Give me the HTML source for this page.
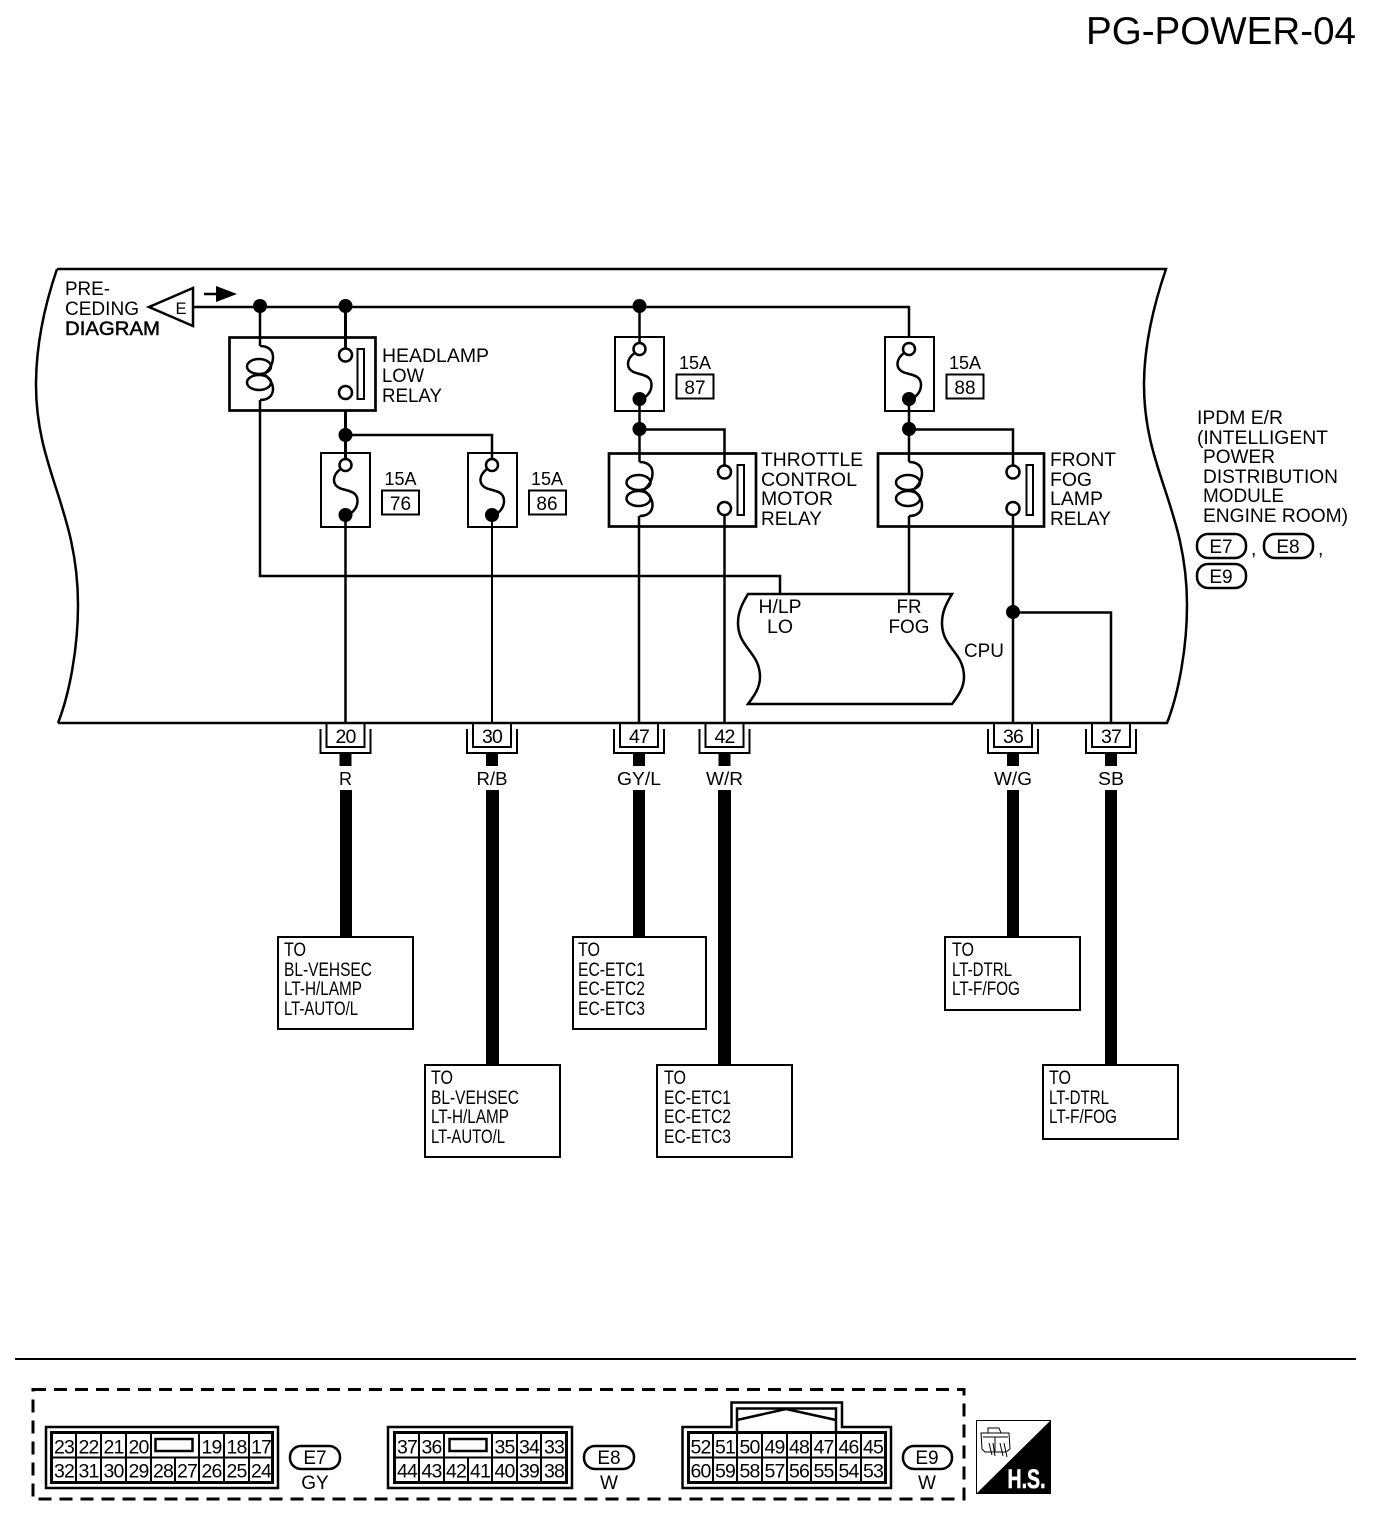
<!DOCTYPE html>
<html>
<head>
<meta charset="utf-8">
<title>PG-POWER-04</title>
<style>
html,body{margin:0;padding:0;background:#fff}
svg{display:block}
text{font-family:"Liberation Sans",sans-serif;font-size:19px;fill:#000}
.m{text-anchor:middle}
.n{font-size:19.5px;letter-spacing:-.9px;text-anchor:middle}
.d{font-size:19px}
.w{fill:none;stroke:#000;stroke-width:2.5}
.t{fill:none;stroke:#000;stroke-width:2}
.b{fill:#000;stroke:none}
</style>
</head>
<body>
<svg width="1376" height="1536" viewBox="0 0 1376 1536" xmlns="http://www.w3.org/2000/svg">
<defs>
<g id="coil">
<path class="w" d="M0 9 C8 9 13 13 13 20 C13 28 9 33 4 37 C9 41 13 46 13 52 C13 59 8 63 0 63"/>
<ellipse class="w" cx="-1" cy="29.5" rx="12" ry="7.5"/>
<ellipse class="w" cx="-1" cy="45.5" rx="12" ry="7.5"/>
</g>
<g id="conn">
<path class="t" d="M-19 0 V24 H19 V0"/>
<path class="t" d="M-25 6 V30 H25 V6"/>
<rect class="b" x="-6" y="30" width="12" height="13"/>
</g>
<g id="fuse">
<path class="w" d="M-5 16 C-13 22 -14 31 -6 35 C0 38 12 37 12 48 C12 55 7 60 2 62"/>
<circle cx="0" cy="12" r="6" fill="#fff" stroke="#000" stroke-width="2.5"/>
<circle class="b" cx="0" cy="62" r="7"/>
</g>
<g id="fusetag">
<rect class="t" x="0" y="0" width="37" height="24"/>
</g>
</defs>

<text x="1086" y="44" style="font-size:38.5px" textLength="270" lengthAdjust="spacingAndGlyphs">PG-POWER-04</text>

<!-- main module outline -->
<path d="M58 723 H1167 C1178 695 1187 650 1187 605 C1187 510 1144 470 1144 385 C1144 350 1152 310 1166 269 H57" fill="none" stroke="#000" stroke-width="2.5"/>
<path d="M57 269 C43 310 36 350 36 385 C36 470 78 510 78 605 C78 650 69 695 58 723" fill="none" stroke="#000" stroke-width="2.5"/>

<!-- upper left -->
<text x="65" y="295" textLength="45" lengthAdjust="spacingAndGlyphs">PRE-</text>
<text x="65" y="315" textLength="74" lengthAdjust="spacingAndGlyphs">CEDING</text>
<text x="65" y="335" textLength="95" lengthAdjust="spacingAndGlyphs" stroke="#000" stroke-width=".5">DIAGRAM</text>
<path d="M149 307 L193 288 V326 Z" fill="none" stroke="#000" stroke-width="2.5"/>
<text x="181" y="314" class="m" style="font-size:16.5px">E</text>
<path d="M204 294 H218" stroke="#000" stroke-width="2.5"/>
<path class="b" d="M216 286 L237 294 L216 302 Z"/>

<!-- main bus -->
<path class="w" d="M193 307 H909 V337"/>
<path d="M345.5 398 V460" stroke="#000" stroke-width="3" fill="none"/>
<path class="w" d="M639.5 307 V350"/>
<circle class="b" cx="260" cy="306" r="7"/>
<circle class="b" cx="345.5" cy="306" r="7"/>
<circle class="b" cx="639.5" cy="306" r="7"/>

<!-- headlamp relay -->
<rect x="229.5" y="337.5" width="146" height="73" fill="#fff" stroke="#000" stroke-width="2.7"/>
<path class="w" d="M260 307 V346"/>
<path d="M345.5 307 V350" stroke="#000" stroke-width="3"/>
<use href="#coil" x="260" y="337"/>
<circle cx="345.5" cy="355" r="6.5" fill="#fff" stroke="#000" stroke-width="2.5"/>
<circle cx="345.5" cy="392.5" r="6.5" fill="#fff" stroke="#000" stroke-width="2.5"/>
<rect x="357.5" y="349" width="6.5" height="50" fill="#fff" stroke="#000" stroke-width="2"/>
<text x="382" y="362" textLength="107" lengthAdjust="spacingAndGlyphs">HEADLAMP</text>
<text x="382" y="382" textLength="42" lengthAdjust="spacingAndGlyphs">LOW</text>
<text x="382" y="402" textLength="60" lengthAdjust="spacingAndGlyphs">RELAY</text>

<!-- wire from coil to CPU -->
<path class="w" d="M260 400 V576 H780 V594"/>

<!-- fuse row 2 -->
<path class="w" d="M345.5 435 H492 V460"/>
<circle class="b" cx="345.5" cy="435" r="7"/>
<rect class="t" x="321" y="453" width="49" height="74"/>
<rect class="t" x="468" y="453" width="49" height="74"/>
<use href="#fuse" x="345.5" y="453"/>
<use href="#fuse" x="492" y="453"/>
<path d="M345.5 515 V723" stroke="#000" stroke-width="2.5"/>
<path d="M492 515 V723" stroke="#000" stroke-width="2"/>
<text x="400.5" y="485" class="m" style="font-size:18px">15A</text>
<use href="#fusetag" x="382" y="490.5"/>
<text x="400.5" y="510" class="m">76</text>
<text x="547" y="485" class="m" style="font-size:18px">15A</text>
<use href="#fusetag" x="529" y="490.5"/>
<text x="547" y="510" class="m">86</text>

<!-- fuses top -->
<rect class="t" x="615" y="337" width="49" height="74"/>
<rect class="t" x="885" y="337" width="49" height="74"/>
<use href="#fuse" x="639.5" y="337"/>
<use href="#fuse" x="909" y="337"/>
<text x="695" y="369" class="m" style="font-size:18px">15A</text>
<use href="#fusetag" x="676.5" y="374.5"/>
<text x="695" y="394" class="m">87</text>
<text x="965" y="369" class="m" style="font-size:18px">15A</text>
<use href="#fusetag" x="946.5" y="374.5"/>
<text x="965" y="394" class="m">88</text>

<path class="w" d="M639.5 399 V462 M639.5 429.5 H724.5 V466"/>
<circle class="b" cx="639.5" cy="429" r="7"/>
<path class="w" d="M909 399 V462 M909 429.5 H1013 V466"/>
<circle class="b" cx="909" cy="429" r="7"/>

<!-- throttle relay -->
<rect x="609" y="453.5" width="147" height="73" fill="none" stroke="#000" stroke-width="2.7"/>
<use href="#coil" x="639.5" y="453"/>
<circle cx="724.5" cy="472" r="6.5" fill="#fff" stroke="#000" stroke-width="2.5"/>
<circle cx="724.5" cy="508.5" r="6.5" fill="#fff" stroke="#000" stroke-width="2.5"/>
<rect x="737.5" y="465" width="6.5" height="50" fill="#fff" stroke="#000" stroke-width="2"/>
<text x="761" y="466" textLength="102" lengthAdjust="spacingAndGlyphs">THROTTLE</text>
<text x="761" y="486" textLength="96" lengthAdjust="spacingAndGlyphs">CONTROL</text>
<text x="761" y="505" textLength="72" lengthAdjust="spacingAndGlyphs">MOTOR</text>
<text x="761" y="525" textLength="61" lengthAdjust="spacingAndGlyphs">RELAY</text>

<!-- fog relay -->
<rect x="878" y="453.5" width="166" height="73" fill="none" stroke="#000" stroke-width="2.7"/>
<use href="#coil" x="909" y="453"/>
<circle cx="1013" cy="472" r="6.5" fill="#fff" stroke="#000" stroke-width="2.5"/>
<circle cx="1013" cy="508.5" r="6.5" fill="#fff" stroke="#000" stroke-width="2.5"/>
<rect x="1026.5" y="465" width="6.5" height="50" fill="#fff" stroke="#000" stroke-width="2"/>
<text x="1050" y="466" textLength="66" lengthAdjust="spacingAndGlyphs">FRONT</text>
<text x="1050" y="486" textLength="42" lengthAdjust="spacingAndGlyphs">FOG</text>
<text x="1050" y="505" textLength="53" lengthAdjust="spacingAndGlyphs">LAMP</text>
<text x="1050" y="525" textLength="61" lengthAdjust="spacingAndGlyphs">RELAY</text>

<!-- wires down -->
<path class="w" d="M639 516 V723 M724.5 515 V723 M909 516 V594 M1013 515 V723 M1013 612.5 H1111 V723"/>
<circle class="b" cx="1013" cy="612" r="7"/>

<!-- CPU -->
<path class="w" d="M748 594 H952 C946 604 942 612 942 623 C942 648 964 652 964 677 C964 688 958 696 952 704 H748 C754 696 760 688 760 677 C760 652 738 648 738 623 C738 612 742 604 748 594 Z"/>
<text x="780" y="613" class="m" textLength="43" lengthAdjust="spacingAndGlyphs">H/LP</text>
<text x="780" y="633" class="m" textLength="26" lengthAdjust="spacingAndGlyphs">LO</text>
<text x="909" y="613" class="m" textLength="25" lengthAdjust="spacingAndGlyphs">FR</text>
<text x="909" y="633" class="m" textLength="41" lengthAdjust="spacingAndGlyphs">FOG</text>
<text x="964" y="657" textLength="40" lengthAdjust="spacingAndGlyphs">CPU</text>

<!-- IPDM label -->
<text x="1197" y="424" textLength="86" lengthAdjust="spacingAndGlyphs">IPDM E/R</text>
<text x="1197" y="444" textLength="131" lengthAdjust="spacingAndGlyphs">(INTELLIGENT</text>
<text x="1203" y="463" textLength="72" lengthAdjust="spacingAndGlyphs">POWER</text>
<text x="1203" y="483" textLength="135" lengthAdjust="spacingAndGlyphs">DISTRIBUTION</text>
<text x="1203" y="502" textLength="81" lengthAdjust="spacingAndGlyphs">MODULE</text>
<text x="1203" y="522" textLength="145" lengthAdjust="spacingAndGlyphs">ENGINE ROOM)</text>
<rect x="1197" y="534" width="49" height="24" rx="11" class="w"/>
<text x="1221" y="553" class="m">E7</text>
<text x="1251" y="555">,</text>
<rect x="1264" y="534" width="49" height="24" rx="11" class="w"/>
<text x="1288" y="553" class="m">E8</text>
<text x="1318" y="555">,</text>
<rect x="1197" y="564" width="49" height="24" rx="11" class="w"/>
<text x="1221" y="583" class="m">E9</text>

<!-- harness connectors -->
<use href="#conn" x="345.5" y="723"/>
<text x="345.5" y="743" class="n">20</text>
<text x="345.5" y="785" class="m" style="font-size:18px">R</text>
<rect class="b" x="340" y="790" width="12" height="147"/>
<use href="#conn" x="492" y="723"/>
<text x="492" y="743" class="n">30</text>
<text x="492" y="785" class="m" style="font-size:18px" textLength="31" lengthAdjust="spacingAndGlyphs">R/B</text>
<rect class="b" x="486" y="790" width="13" height="275"/>
<use href="#conn" x="639" y="723"/>
<text x="639" y="743" class="n">47</text>
<text x="639" y="785" class="m" style="font-size:18px" textLength="44" lengthAdjust="spacingAndGlyphs">GY/L</text>
<rect class="b" x="633" y="790" width="12" height="147"/>
<use href="#conn" x="724.5" y="723"/>
<text x="724.5" y="743" class="n">42</text>
<text x="724.5" y="785" class="m" style="font-size:18px" textLength="37" lengthAdjust="spacingAndGlyphs">W/R</text>
<rect class="b" x="718" y="790" width="13" height="275"/>
<use href="#conn" x="1013" y="723"/>
<text x="1013" y="743" class="n">36</text>
<text x="1013" y="785" class="m" style="font-size:18px" textLength="38" lengthAdjust="spacingAndGlyphs">W/G</text>
<rect class="b" x="1007" y="790" width="12" height="147"/>
<use href="#conn" x="1111" y="723"/>
<text x="1111" y="743" class="n">37</text>
<text x="1111" y="785" class="m" style="font-size:18px" textLength="26" lengthAdjust="spacingAndGlyphs">SB</text>
<rect class="b" x="1105" y="790" width="12" height="275"/>

<!-- destination boxes -->
<rect class="t" x="278" y="937" width="135" height="92"/>
<text x="284" y="956" class="d" textLength="22" lengthAdjust="spacingAndGlyphs">TO</text>
<text x="284" y="976" class="d" textLength="88" lengthAdjust="spacingAndGlyphs">BL-VEHSEC</text>
<text x="284" y="995" class="d" textLength="78" lengthAdjust="spacingAndGlyphs">LT-H/LAMP</text>
<text x="284" y="1015" class="d" textLength="74" lengthAdjust="spacingAndGlyphs">LT-AUTO/L</text>

<rect class="t" x="425" y="1065" width="135" height="92"/>
<text x="431" y="1084" class="d" textLength="22" lengthAdjust="spacingAndGlyphs">TO</text>
<text x="431" y="1104" class="d" textLength="88" lengthAdjust="spacingAndGlyphs">BL-VEHSEC</text>
<text x="431" y="1123" class="d" textLength="78" lengthAdjust="spacingAndGlyphs">LT-H/LAMP</text>
<text x="431" y="1143" class="d" textLength="74" lengthAdjust="spacingAndGlyphs">LT-AUTO/L</text>

<rect class="t" x="573" y="937" width="133" height="92"/>
<text x="578" y="956" class="d" textLength="22" lengthAdjust="spacingAndGlyphs">TO</text>
<text x="578" y="976" class="d" textLength="67" lengthAdjust="spacingAndGlyphs">EC-ETC1</text>
<text x="578" y="995" class="d" textLength="67" lengthAdjust="spacingAndGlyphs">EC-ETC2</text>
<text x="578" y="1015" class="d" textLength="67" lengthAdjust="spacingAndGlyphs">EC-ETC3</text>

<rect class="t" x="657" y="1065" width="135" height="92"/>
<text x="664" y="1084" class="d" textLength="22" lengthAdjust="spacingAndGlyphs">TO</text>
<text x="664" y="1104" class="d" textLength="67" lengthAdjust="spacingAndGlyphs">EC-ETC1</text>
<text x="664" y="1123" class="d" textLength="67" lengthAdjust="spacingAndGlyphs">EC-ETC2</text>
<text x="664" y="1143" class="d" textLength="67" lengthAdjust="spacingAndGlyphs">EC-ETC3</text>

<rect class="t" x="945" y="937" width="135" height="73"/>
<text x="952" y="956" class="d" textLength="22" lengthAdjust="spacingAndGlyphs">TO</text>
<text x="952" y="976" class="d" textLength="60" lengthAdjust="spacingAndGlyphs">LT-DTRL</text>
<text x="952" y="995" class="d" textLength="68" lengthAdjust="spacingAndGlyphs">LT-F/FOG</text>

<rect class="t" x="1043" y="1065" width="135" height="74"/>
<text x="1049" y="1084" class="d" textLength="22" lengthAdjust="spacingAndGlyphs">TO</text>
<text x="1049" y="1104" class="d" textLength="60" lengthAdjust="spacingAndGlyphs">LT-DTRL</text>
<text x="1049" y="1123" class="d" textLength="68" lengthAdjust="spacingAndGlyphs">LT-F/FOG</text>

<!-- separator -->
<path d="M15 1359 H1356" stroke="#000" stroke-width="2"/>
<rect x="33" y="1389.5" width="931" height="109.5" fill="none" stroke="#000" stroke-width="3" stroke-dasharray="13 8"/>

<!-- E7 -->
<rect x="46" y="1427" width="232" height="61" fill="none" stroke="#000" stroke-width="2.5"/>
<rect x="51.5" y="1432.5" width="221" height="50" fill="none" stroke="#000" stroke-width="3"/>
<path class="t" d="M51 1457.5 H273 M76 1432 V1483 M101 1432 V1483 M126 1432 V1483 M151 1432 V1483 M175 1457 V1483 M199 1432 V1483 M224 1432 V1483 M249 1432 V1483"/>
<rect x="155.5" y="1439" width="37" height="12" fill="none" stroke="#000" stroke-width="2.5"/>
<text class="n" x="64" y="1453.5">23</text><text class="n" x="88.5" y="1453.5">22</text><text class="n" x="113.5" y="1453.5">21</text><text class="n" x="138.5" y="1453.5">20</text>
<text class="n" x="211.5" y="1453.5">19</text><text class="n" x="236.5" y="1453.5">18</text><text class="n" x="261" y="1453.5">17</text>
<text class="n" x="64" y="1477.5">32</text><text class="n" x="88.5" y="1477.5">31</text><text class="n" x="113.5" y="1477.5">30</text><text class="n" x="138.5" y="1477.5">29</text><text class="n" x="163" y="1477.5">28</text><text class="n" x="187" y="1477.5">27</text><text class="n" x="211.5" y="1477.5">26</text><text class="n" x="236.5" y="1477.5">25</text><text class="n" x="261" y="1477.5">24</text>
<rect x="290" y="1446" width="50" height="23" rx="11" class="w"/>
<text x="315" y="1464" class="m">E7</text>
<text x="315" y="1489" class="m">GY</text>

<!-- E8 -->
<rect x="388" y="1427" width="184" height="61" fill="none" stroke="#000" stroke-width="2.5"/>
<rect x="394.5" y="1432.5" width="172" height="50" fill="none" stroke="#000" stroke-width="3"/>
<path class="t" d="M394 1457.5 H566 M419 1432 V1483 M444 1432 V1483 M468 1457 V1483 M492 1432 V1483 M517 1432 V1483 M541 1432 V1483"/>
<rect x="449.5" y="1439" width="37" height="12" fill="none" stroke="#000" stroke-width="2.5"/>
<text class="n" x="407" y="1453.5">37</text><text class="n" x="431.5" y="1453.5">36</text><text class="n" x="504.5" y="1453.5">35</text><text class="n" x="529" y="1453.5">34</text><text class="n" x="554" y="1453.5">33</text>
<text class="n" x="407" y="1477.5">44</text><text class="n" x="431.5" y="1477.5">43</text><text class="n" x="456" y="1477.5">42</text><text class="n" x="480" y="1477.5">41</text><text class="n" x="504.5" y="1477.5">40</text><text class="n" x="529" y="1477.5">39</text><text class="n" x="554" y="1477.5">38</text>
<rect x="584" y="1446" width="50" height="23" rx="11" class="w"/>
<text x="609" y="1464" class="m">E8</text>
<text x="609" y="1489" class="m">W</text>

<!-- E9 -->
<path d="M682.5 1427 H731.5 V1402.5 H842 V1427 H891 V1488 H682.5 Z" fill="none" stroke="#000" stroke-width="2.5"/>
<rect x="688.5" y="1432.5" width="197" height="50" fill="none" stroke="#000" stroke-width="3"/>
<path d="M737 1432 V1408.5 H836 V1432" fill="none" stroke="#000" stroke-width="2.5"/>
<path d="M737 1420 L786 1409 L836 1420" fill="none" stroke="#000" stroke-width="2.5"/>
<path class="t" d="M688 1457.5 H886 M713 1432 V1483 M737 1432 V1483 M762 1432 V1483 M787 1432 V1483 M811 1432 V1483 M836 1432 V1483 M861 1432 V1483"/>
<text class="n" x="700.5" y="1453.5">52</text><text class="n" x="725" y="1453.5">51</text><text class="n" x="749.5" y="1453.5">50</text><text class="n" x="774.5" y="1453.5">49</text><text class="n" x="799" y="1453.5">48</text><text class="n" x="823.5" y="1453.5">47</text><text class="n" x="848.5" y="1453.5">46</text><text class="n" x="873" y="1453.5">45</text>
<text class="n" x="700.5" y="1477.5">60</text><text class="n" x="725" y="1477.5">59</text><text class="n" x="749.5" y="1477.5">58</text><text class="n" x="774.5" y="1477.5">57</text><text class="n" x="799" y="1477.5">56</text><text class="n" x="823.5" y="1477.5">55</text><text class="n" x="848.5" y="1477.5">54</text><text class="n" x="873" y="1477.5">53</text>
<rect x="903" y="1446" width="49" height="23" rx="11" class="w"/>
<text x="927" y="1464" class="m">E9</text>
<text x="927" y="1489" class="m">W</text>

<!-- H.S. -->
<rect x="976.5" y="1420.5" width="74" height="73" fill="#fff" stroke="#000" stroke-width="1"/>
<path class="b" d="M1050 1421 V1493 H977 Z"/>
<path d="M988 1433 V1428 H999 L1001 1433 M981 1433 H1009 L1010 1449 L1006 1452 H985 L982 1449 Z M983 1437 H1008 M995 1437 V1452 M989 1443 L992 1455 M993 1443 L995 1456 M1000 1443 L1003 1456 M1004 1443 L1007 1457" fill="none" stroke="#000" stroke-width="1"/>
<text x="1026.5" y="1488" class="m" style="font-size:27px;font-weight:bold;fill:#fff" stroke="#fff" stroke-width=".6" textLength="38" lengthAdjust="spacingAndGlyphs">H.S.</text>
</svg>
</body>
</html>
